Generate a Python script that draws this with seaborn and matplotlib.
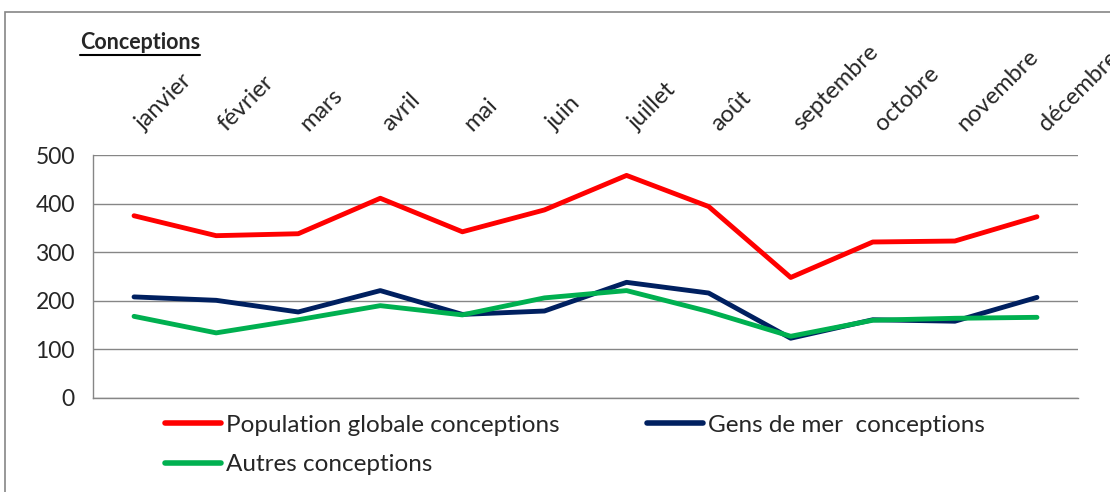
import numpy as np
import matplotlib.pyplot as plt
import matplotlib.patches as mpatches
import seaborn as sns
import pandas as pd

mois = ["janvier", "février", "mars", "avril", "mai", "juin", "juillet",
        "août", "septembre", "octobre", "novembre", "décembre"]
population = [375, 334, 338, 411, 342, 387, 458, 394, 248, 321, 323, 373]
gens_de_mer = [208, 201, 177, 221, 172, 179, 238, 216, 123, 161, 158, 207]
autres = [168, 134, 161, 190, 171, 206, 221, 178, 127, 160, 164, 166]

series = ["Population globale conceptions", "Gens de mer  conceptions", "Autres conceptions"]
couleurs = ["#FF0000", "#002060", "#00B050"]

df = pd.DataFrame({
    "mois": mois * 3,
    "x": list(range(len(mois))) * 3,
    "valeur": population + gens_de_mer + autres,
    "serie": [series[0]] * 12 + [series[1]] * 12 + [series[2]] * 12,
})

sns.set_style("white")
plt.rcParams["font.family"] = ["Lato", "DejaVu Sans"]

fig = plt.figure(figsize=(11.1, 4.92), dpi=100)
ax = fig.add_axes([93 / 1110, 1 - 398 / 492, 985 / 1110, 243 / 492])

sns.lineplot(data=df, x="x", y="valeur", hue="serie", palette=couleurs,
             hue_order=series, linewidth=3.5, ax=ax, legend=False)

ax.set_xlim(-0.5, 11.5)
ax.set_ylim(0, 500)
ax.set_yticks([0, 100, 200, 300, 400, 500])
ax.tick_params(axis="y", labelsize=16.5, length=7, color="#868686", pad=6)
ax.yaxis.grid(True, color="#868686", linewidth=1)
ax.set_xticks(np.arange(-0.5, 12, 1))
ax.set_xticklabels([])
ax.tick_params(axis="x", length=8, color="#868686", direction="out")
ax.set_xlabel("")
ax.set_ylabel("")
for s in ["top", "right"]:
    ax.spines[s].set_visible(False)
for s in ["left", "bottom"]:
    ax.spines[s].set_color("#868686")
    ax.spines[s].set_linewidth(1)

# libellés des mois en haut
for i, m in enumerate(mois):
    ax.text(i + 0.16, 1.085, m, transform=ax.get_xaxis_transform(),
            rotation=45, ha="left", va="bottom", rotation_mode="anchor",
            fontsize=17, clip_on=False)

titre = fig.text(80 / 1110, 1 - 49 / 492, "Conceptions", fontsize=15.5,
                 fontweight="bold")
fig.canvas.draw()
bb = titre.get_window_extent().transformed(fig.transFigure.inverted())
fig.add_artist(plt.Line2D([bb.x0, bb.x1], [bb.y0 - 0.004, bb.y0 - 0.004],
                          color="black", linewidth=1.5))

# ordre colonne par colonne pour obtenir Population | Gens de mer / Autres
ordre = [0, 2, 1]
handles = [plt.Line2D([], [], color=couleurs[k], linewidth=4) for k in ordre]
fig.legend(handles, [series[k] for k in ordre], ncol=2, loc="upper left",
           bbox_to_anchor=(143 / 1110, 1 - 393 / 492), frameon=False,
           fontsize=17.5, handlelength=2.3, handletextpad=0.2,
           columnspacing=3.6, labelspacing=0.75)

fig.add_artist(mpatches.Rectangle((5 / 1110, -0.1), 2, 1.1 - 12 / 492,
                                  transform=fig.transFigure, fill=False,
                                  edgecolor="#868686", linewidth=1.2))

fig.savefig("out.png", dpi=100)
